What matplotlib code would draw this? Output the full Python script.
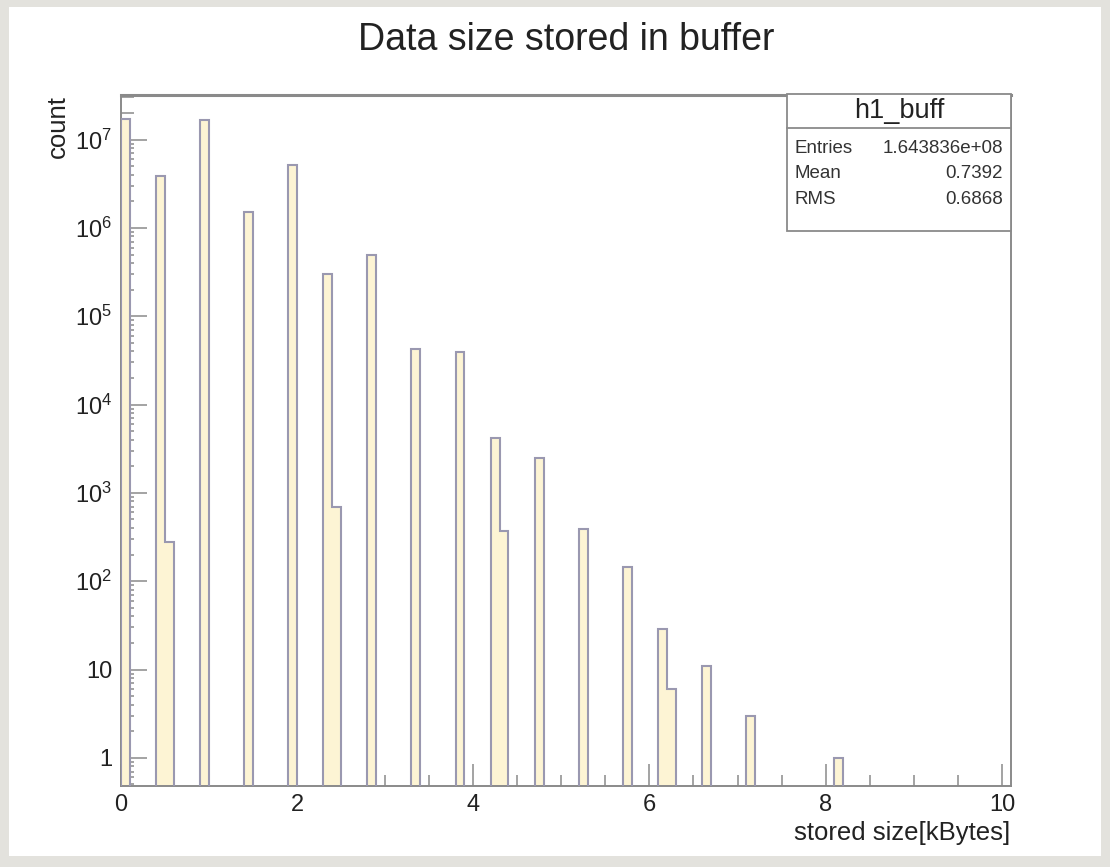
import numpy as np
import matplotlib
matplotlib.use("Agg")
import matplotlib.pyplot as plt
from matplotlib.patches import Rectangle
from matplotlib.lines import Line2D
from matplotlib.ticker import FixedLocator, LogLocator, MultipleLocator, NullFormatter

plt.rcParams['font.family'] = ['Liberation Sans', 'DejaVu Sans']
plt.rcParams['mathtext.fontset'] = 'custom'
plt.rcParams['mathtext.rm'] = 'Liberation Sans'
plt.rcParams['mathtext.it'] = 'Liberation Sans:italic'

# ---- data ----
title = "Data size stored in buffer"
xlabel = "stored size[kBytes]"
ylabel = "count"
bin_width = 0.1
n_bins = 101
bin_lows = [0.0, 0.4, 0.5, 0.9, 1.4, 1.9, 2.3, 2.4, 2.8, 3.3, 3.8,
            4.2, 4.3, 4.7, 5.2, 5.7, 6.1, 6.2, 6.6, 7.1, 8.1]
counts = [1.7e7, 3.9e6, 280, 1.65e7, 1.5e6, 5.2e6, 3.0e5, 700, 5.0e5, 4.3e4, 3.9e4,
          4.2e3, 375, 2.5e3, 390, 145, 29, 6, 11, 3, 1]
stats_name = "h1_buff"
stats_labels = ["Entries", "Mean", "RMS"]
stats_values = ["1.643836e+08", "0.7392", "0.6868"]
ytick_vals = [1, 10, 1e2, 1e3, 1e4, 1e5, 1e6, 1e7]
ytick_labels = ["1", "10", r"$10^{2}$", r"$10^{3}$", r"$10^{4}$", r"$10^{5}$", r"$10^{6}$", r"$10^{7}$"]
xtick_vals = [0, 2, 4, 6, 8, 10]

# ---- build histogram arrays ----
edges = np.round(np.arange(n_bins + 1) * bin_width, 3)
vals = np.zeros(n_bins)
for lo, c in zip(bin_lows, counts):
    vals[int(round(lo / bin_width))] = c
baseline = 1e-3
vals_plot = np.where(vals > 0, vals, baseline)

W, H = 1110, 867
fig = plt.figure(figsize=(W / 100, H / 100), dpi=100)
fig.patch.set_facecolor('#e3e2dd')

def fx(px):
    return px / W

def fy(py):
    return 1 - py / H

# white canvas
fig.add_artist(Rectangle((fx(9), fy(856)), fx(1101) - fx(9), fy(7) - fy(856),
                         transform=fig.transFigure, facecolor='white', edgecolor='none', zorder=0))

ax_l, ax_r, ax_t, ax_b = 120.7, 1010.7, 95, 786
ax = fig.add_axes([fx(ax_l), fy(ax_b), fx(ax_r) - fx(ax_l), fy(ax_t) - fy(ax_b)])
ax.set_facecolor('white')
ax.set_yscale('log')

fill_c = '#fdf4d4'
edge_c = '#9a98b0'
ax.stairs(vals_plot, edges, baseline=baseline, fill=True, color=fill_c, zorder=2)
ax.stairs(vals_plot, edges, baseline=baseline, fill=False, color=edge_c, lw=1.5, zorder=3)

ax.set_xlim(0, edges[-1])
ax.set_ylim(0.48, 3.2e7)

spine_c = '#8a8a8a'
for s in ax.spines.values():
    s.set_color(spine_c)
    s.set_linewidth(1.4)
ax.spines['top'].set_linewidth(2.2)

ax.xaxis.set_major_locator(FixedLocator(xtick_vals))
ax.set_xticklabels([str(v) for v in xtick_vals])
ax.xaxis.set_minor_locator(MultipleLocator(0.5))
ax.yaxis.set_major_locator(FixedLocator(ytick_vals))
ax.set_yticklabels(ytick_labels)
ax.yaxis.set_minor_locator(LogLocator(base=10, subs=np.arange(2, 10)))
ax.yaxis.set_minor_formatter(NullFormatter())

ax.tick_params(axis='x', which='major', direction='in', length=16, width=1.1, color=spine_c,
               labelsize=17, pad=6, labelcolor='#222222')
ax.tick_params(axis='x', which='minor', direction='in', length=8, width=1.1, color=spine_c)
ax.tick_params(axis='y', which='major', direction='in', length=19, width=1.1, color=spine_c,
               labelsize=17, pad=6, labelcolor='#222222')
ax.tick_params(axis='y', which='minor', direction='in', length=9.5, width=1.1, color=spine_c)
for t in ax.get_xticklabels() + ax.get_yticklabels():
    t.set_zorder(5)

ax.set_xlabel(xlabel, loc='right', fontsize=18.5, color='#222222')
ax.xaxis.set_label_coords(1.0, -0.051)
ax.set_ylabel(ylabel, loc='top', fontsize=18.5, color='#222222')
ax.yaxis.set_label_coords(-0.057, 1.0)

fig.text(fx(566), fy(40), title, ha='center', va='center', fontsize=27, color='#222222')

# stats box
bx0, bx1, by0, by1, bdiv = 786.7, 1011, 94.3, 231, 128.3
fig.add_artist(Rectangle((fx(bx0), fy(by1)), fx(bx1) - fx(bx0), fy(by0) - fy(by1),
                         transform=fig.transFigure, facecolor='white', edgecolor=spine_c,
                         lw=1.3, zorder=6))
fig.add_artist(Line2D([fx(bx0), fx(bx1)], [fy(bdiv), fy(bdiv)], transform=fig.transFigure,
                      color=spine_c, lw=1.3, zorder=7))
fig.text(fx((bx0 + bx1) / 2), fy(111), stats_name, ha='center', va='center', fontsize=19.5,
         color='#222222', zorder=8)
row_y = [148.3, 173.3, 199.5]
for lab, val, yy in zip(stats_labels, stats_values, row_y):
    fig.text(fx(795), fy(yy), lab, ha='left', va='center', fontsize=13.5, color='#333333', zorder=8)
    fig.text(fx(1003), fy(yy), val, ha='right', va='center', fontsize=13.5, color='#333333', zorder=8)

fig.savefig('out.png', dpi=100, facecolor=fig.get_facecolor())
